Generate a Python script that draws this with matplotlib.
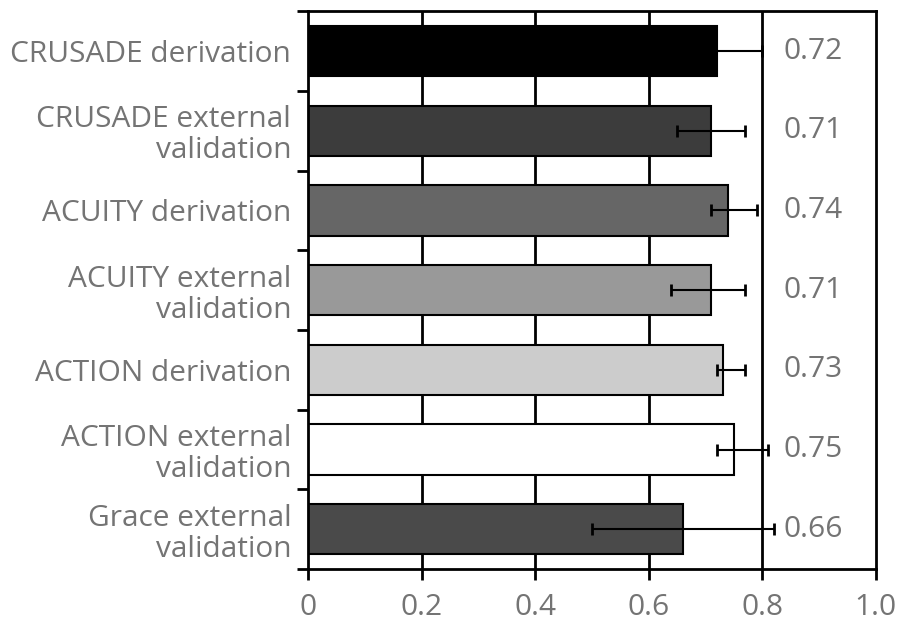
import numpy as np
import matplotlib
matplotlib.use("Agg")
import matplotlib.pyplot as plt

# ── data (top to bottom) ─────────────────────────────
labels = ["CRUSADE derivation", "CRUSADE external\nvalidation", "ACUITY derivation",
          "ACUITY external\nvalidation", "ACTION derivation", "ACTION external\nvalidation",
          "Grace external\nvalidation"]
auc    = [0.72, 0.71, 0.74, 0.71, 0.73, 0.75, 0.66]
ci_lo  = [0.64, 0.65, 0.71, 0.64, 0.72, 0.72, 0.50]
ci_hi  = [0.80, 0.77, 0.79, 0.77, 0.77, 0.81, 0.82]
colors = ["#000000", "#3c3c3c", "#666666", "#999999", "#cccccc", "#ffffff", "#4a4a4a"]
xticks = [0, 0.2, 0.4, 0.6, 0.8, 1.0]
xticklabels = ["0", "0.2", "0.4", "0.6", "0.8", "1.0"]

plt.rcParams["font.family"] = ["Open Sans", "DejaVu Sans"]
TXT = "#747474"
FS = 21.5

fig = plt.figure(figsize=(9.02, 6.24), dpi=100)
ax = fig.add_axes([0.3415, 0.088, 0.6295, 0.894])

n = len(auc)
y = np.arange(n)
err = [np.array(auc) - np.array(ci_lo), np.array(ci_hi) - np.array(auc)]

# vertical grid lines drawn behind the bars
for xv in xticks[1:-1]:
    ax.axvline(xv, color="black", lw=2, zorder=0)

ax.barh(y, auc, height=0.63, color=colors, edgecolor="black", linewidth=1.5, zorder=2)
ax.errorbar(auc, y, xerr=err, fmt="none", ecolor="black", elinewidth=1.5,
            capsize=4, capthick=2, zorder=3)

for yi, v in zip(y, auc):
    ax.text(0.889, yi, f"{v:.2f}", color=TXT, fontsize=FS, ha="center", va="center")

ax.set_xlim(0, 1.0)
ax.set_ylim(n - 0.5, -0.5)
ax.set_xticks(xticks)
ax.set_xticklabels(xticklabels, color=TXT, fontsize=FS)
ax.tick_params(axis="x", length=8, width=2, direction="out", pad=9)

# boundary ticks unlabeled, category labels on centred minor ticks
ax.set_yticks(np.arange(-0.5, n, 1.0))
ax.set_yticklabels([])
ax.tick_params(axis="y", which="major", length=8, width=2, direction="out")
ax.set_yticks(y, minor=True)
ax.set_yticklabels(labels, minor=True, color=TXT, fontsize=FS, linespacing=1.1)
ax.tick_params(axis="y", which="minor", length=0, pad=12)

for s in ax.spines.values():
    s.set_linewidth(2)

fig.savefig("out.png", dpi=100)
